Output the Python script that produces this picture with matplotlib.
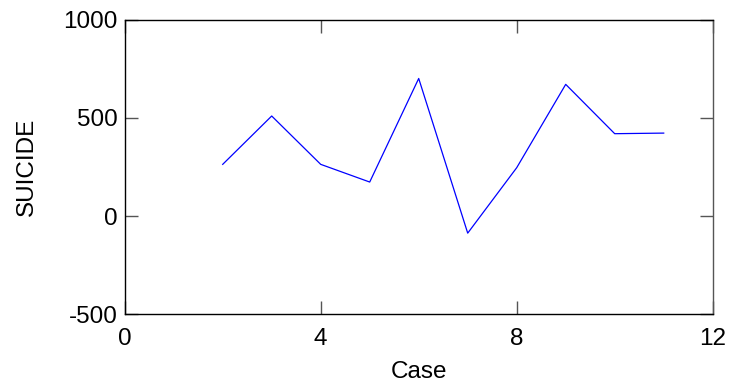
import matplotlib.pyplot as plt

# Значення по кейсах
cases = [2, 3, 4, 5, 6, 7, 8, 9, 10, 11]
suicide = [263, 509, 263, 173, 700, -87, 246, 670, 419, 422]

x_ticks = [0, 4, 8, 12]
y_ticks = [-500, 0, 500, 1000]

plt.rcParams['font.family'] = ['Liberation Sans', 'DejaVu Sans']
plt.rcParams['axes.unicode_minus'] = False

fig = plt.figure(figsize=(7.34, 3.84), dpi=100)
ax = fig.add_axes([0.1699, 0.1815, 0.8011, 0.7677])

ax.plot(cases, suicide, color='#0000ff', linewidth=0.9)

ax.set_xlim(0, 12)
ax.set_ylim(-500, 1000)
ax.set_xticks(x_ticks)
ax.set_yticks(y_ticks)
ax.tick_params(direction='in', length=9.5, width=1, color='#555555',
               top=True, right=True, labelsize=17.5)
ax.tick_params(axis='x', pad=10)
ax.tick_params(axis='y', pad=5)

for side in ['left', 'bottom', 'top']:
    ax.spines[side].set_color('black')
    ax.spines[side].set_linewidth(1)
ax.spines['right'].set_color('#555555')
ax.spines['right'].set_linewidth(1)

ax.set_xlabel("Case", fontsize=17.5, labelpad=8)
ax.set_ylabel("SUICIDE", fontsize=17.5, labelpad=18)

fig.savefig("out.png", dpi=100)
